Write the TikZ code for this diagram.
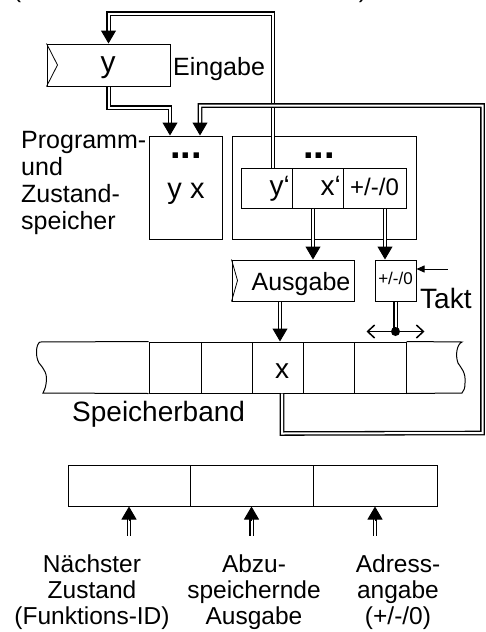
\documentclass[tikz,border=0pt]{standalone}
\usepackage{fontspec}
\setmainfont{Liberation Sans}
\usetikzlibrary{arrows.meta,calc}
\newcommand\fsz[1]{\fontsize{#1}{#1}\selectfont}
\begin{document}
\begin{tikzpicture}[x=1pt,y=-1pt,
  box/.style={draw, line width=1pt, inner sep=0pt},
  txt/.style={inner sep=0pt},
  dbl/.style={draw, double, double distance=2pt, line width=1.3pt},
  head/.style={-{Triangle[length=13pt,width=15pt]}, line width=1pt},
  thin/.style={line width=0.8pt}]
\useasboundingbox (0,0) rectangle (485,632);

% cut-off text at top edge
\node[txt, anchor=base] (pl) at (17,-3) {\fsz{25}(};
\node[txt, anchor=base] (pr) at (363,-3) {\fsz{25})};

% Eingabe register
\node[box, minimum width=123pt, minimum height=42pt] (inp) at (108.5,65) {};
\draw[thin] (inp.north west) -- ($(inp.west)+(11,0)$) -- (inp.south west);
\node[txt, anchor=base] (yin) at (108,72) {\fsz{30}y};
\node[txt, anchor=base west] (ein) at (173,75) {\fsz{25}Eingabe};

% Programm- und Zustandspeicher
\node[txt, anchor=north west, align=left, font=\fontsize{25}{27}\selectfont] (pz) at (21,131)
  {Programm-\\und\\Zustand-\\speicher};
\node[box, minimum width=73pt, minimum height=103pt] (prog) at (185.5,187.5) {};
\node[txt, anchor=base] (dl) at (186,158) {\fsz{38}\bfseries ...};
\node[txt, anchor=base] (yx) at (186,198) {\fsz{29}y x};

\node[box, minimum width=184pt, minimum height=103pt] (tab) at (324,187.5) {};
\node[txt, anchor=base] (dr) at (319,158) {\fsz{38}\bfseries ...};
\node[box, minimum width=51pt, minimum height=40pt] (c1) at (266.5,188) {};
\node[box, minimum width=51pt, minimum height=40pt] (c2) at (317.5,188) {};
\node[box, minimum width=63pt, minimum height=40pt] (c3) at (374.5,188) {};
\node[txt, anchor=base east] (yp) at (290,195) {\fsz{28}y‘};
\node[txt, anchor=base east] (xp) at (341,195) {\fsz{28}x‘};
\node[txt, anchor=base] (pm) at (374.5,195) {\fsz{24}+/-/0};

% Ausgabe register and direction register
\node[box, minimum width=122pt, minimum height=41pt] (out) at (293,280.5) {};
\draw[thin] (out.north west) -- ($(out.west)+(6,0)$) -- (out.south west);
\node[txt, anchor=base] (aus) at (301,290) {\fsz{25}Ausgabe};
\node[box, minimum width=41pt, minimum height=41pt] (dir) at (395.5,280.5) {};
\node[txt, anchor=base] (pms) at (395.5,284) {\fsz{17}+/-/0};
\node[txt, anchor=base west] (takt) at (420,308) {\fsz{28}Takt};
\coordinate (taktin) at ($(dir.east)+(31,-11.5)$);
\draw[-{Triangle[length=8pt,width=7pt]}, thin] (taktin) -- ($(dir.east)+(0,-11.5)$);

% Speicherband
\node[box, minimum width=52pt, minimum height=51pt] (t1) at (175,367.5) {};
\node[box, minimum width=51pt, minimum height=51pt] (t2) at (226.5,367.5) {};
\node[box, minimum width=51pt, minimum height=51pt] (t3) at (277.5,367.5) {};
\node[box, minimum width=51pt, minimum height=51pt] (t4) at (328.5,367.5) {};
\node[box, minimum width=52pt, minimum height=51pt] (t5) at (380,367.5) {};
\draw[line width=1pt] (t1.north west) -- (40,342)
  .. controls (36,344) and (35,356) .. (39,363)
  .. controls (44,369) and (48,374) .. (46,384)
  .. controls (45.5,388) and (44,391) .. (43,393) -- (t1.south west);
\draw[line width=1pt] (t5.north east) -- (462,342)
  .. controls (457,344) and (455,355) .. (458,363)
  .. controls (461,368) and (466,372) .. (465,383)
  .. controls (465,388) and (464,391) .. (462,393) -- (t5.south east);
\node[txt, anchor=base] (xt) at (282,378) {\fsz{28}x};
\node[txt, anchor=base west] (sb) at (72,421) {\fsz{28}Speicherband};

% feedback y' -> Eingabe
\coordinate (a0) at ($(c1.north)+(6.5,0)$);
\coordinate (a1) at ($(a0)+(0,-154)$);
\coordinate (a2) at (a1 -| inp.north);
\path[dbl] (a0) -- (a1) -- (a2) -- ($(inp.north)+(0,-6)$);
\draw[head] ($(inp.north)+(0,-13)$) -- (inp.north);

% Eingabe -> Programmspeicher
\coordinate (pa) at ($(prog.north)+(-15.5,0)$);
\coordinate (b1) at ($(inp.south)+(0,21)$);
\path[dbl] (inp.south) -- (b1) -- (b1 -| pa) -- ($(pa)+(0,-6)$);
\draw[head] ($(pa)+(0,-13)$) -- (pa);

% Speicherband -> Programmspeicher
\coordinate (pb) at ($(prog.north)+(14.5,0)$);
\coordinate (r0) at ($(t3.south)+(4.5,0)$);
\coordinate (r1) at ($(r0)+(0,40)$);
\coordinate (r2) at (482.5,433);
\coordinate (r3) at (482.5,105.5);
\path[dbl] (r0) -- (r1) -- (r2) -- (r3) -- (r3 -| pb) -- ($(pb)+(0,-6)$);
\draw[head] ($(pb)+(0,-13)$) -- (pb);

% x' -> Ausgabe
\coordinate (xs) at ($(c2.south)+(-4.5,0)$);
\coordinate (xe) at (xs |- out.north);
\path[dbl] (xs) -- ($(xe)+(0,-6)$);
\draw[head] ($(xe)+(0,-13)$) -- (xe);

% +/-/0 -> direction register
\coordinate (ps) at ($(c3.south)+(10.5,0)$);
\coordinate (pe) at (ps |- dir.north);
\path[dbl] (ps) -- ($(pe)+(0,-6)$);
\draw[head] ($(pe)+(0,-13)$) -- (pe);

% Ausgabe -> Speicherband
\coordinate (ae) at ($(t3.north)+(2.5,0)$);
\path[dbl] (out.south -| ae) -- ($(ae)+(0,-6)$);
\draw[head] ($(ae)+(0,-13)$) -- (ae);

% head movement
\coordinate (dot) at ($(dir.south)+(0,30)$);
\path[dbl] (dir.south) -- (dot);
\draw[{Straight Barb[length=7pt,width=13pt]}-{Straight Barb[length=7pt,width=13pt]}, line width=1.5pt]
  ($(dot)+(-29,0)$) -- ($(dot)+(29,0)$);
\fill (dot) circle (4.5pt);

% instruction word
\node[box, minimum width=122pt, minimum height=41pt] (b1x) at (129,485.5) {};
\node[box, minimum width=123pt, minimum height=41pt] (b2x) at (251.5,485.5) {};
\node[box, minimum width=124pt, minimum height=41pt] (b3x) at (375,485.5) {};
\foreach \b in {b1x,b2x,b3x}{
  \path[dbl] ($(\b.south)+(0,29)$) -- ($(\b.south)+(0,10)$);
  \draw[head] ($(\b.south)+(0,14)$) -- (\b.south);
}
\node[txt, anchor=north, align=center, font=\fontsize{24.5}{26}\selectfont] (l1) at (92,555)
  {Nächster\\Zustand\\(Funktions-ID)};
\node[txt, anchor=north, align=center, font=\fontsize{24.5}{26}\selectfont] (l2) at (254,555)
  {Abzu-\\speichernde\\Ausgabe};
\node[txt, anchor=north, align=center, font=\fontsize{24.5}{26}\selectfont] (l3) at (398,555)
  {Adress-\\angabe\\(+/-/0)};
\end{tikzpicture}
\end{document}
